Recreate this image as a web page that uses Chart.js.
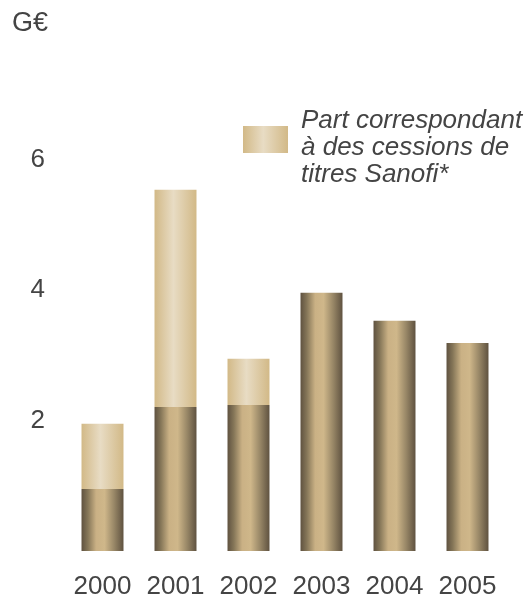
<!DOCTYPE html>
<html>
<head>
<meta charset="utf-8">
<script src="https://cdn.jsdelivr.net/npm/chart.js@4"></script>
<style>
  body { margin: 0; background: #fff; }
  #wrap { width: 531px; height: 594px; }
</style>
</head>
<body>
<div id="wrap"><canvas id="graph"></canvas></div>
<script>
  // Données (G€)
  const annees = ['2000', '2001', '2002', '2003', '2004', '2005'];
  const horsCessions = [0.95, 2.21, 2.24, 3.96, 3.53, 3.19];
  const cessionsSanofi = [1.00, 3.33, 0.71, null, null, null];
  const ticksY = [2, 4, 6];
  const uniteY = 'G€';
  const legende = ['Part correspondant', 'à des cessions de', 'titres Sanofi*'];

  const police = '"Liberation Sans", Arial, sans-serif';
  const gris = '#444444';
  const largeurBarre = 0.575;

  // Dégradés horizontaux (effet cylindre)
  const stopsFonce = [[0, '#5f5240'], [0.15, '#857658'], [0.35, '#cab185'], [0.55, '#cfb78a'], [0.78, '#978666'], [1, '#5f5240']];
  const stopsClair = [[0, '#d2b987'], [0.45, '#e8dcc4'], [1, '#d2b987']];

  function degrade(ctx, x0, x1, stops) {
    const g = ctx.createLinearGradient(x0, 0, x1, 0);
    stops.forEach(s => g.addColorStop(s[0], s[1]));
    return g;
  }

  function couleurBarre(stops, repli) {
    return function (context) {
      const chart = context.chart;
      const x = chart.scales.x;
      if (!chart.chartArea || !x) return repli;
      const centre = x.getPixelForValue(context.dataIndex);
      const demi = (x.width / annees.length) * largeurBarre / 2;
      return degrade(chart.ctx, centre - demi, centre + demi, stops);
    };
  }

  // Légende et unité dessinées à la main
  const decor = {
    id: 'decor',
    afterDraw(chart) {
      const ctx = chart.ctx;
      ctx.save();
      ctx.fillStyle = gris;
      ctx.textBaseline = 'alphabetic';
      ctx.textAlign = 'left';
      ctx.font = '27px ' + police;
      ctx.fillText(uniteY, 12, 31);

      ctx.fillStyle = degrade(ctx, 243, 288, stopsClair);
      ctx.fillRect(243, 126, 45, 27);

      ctx.fillStyle = gris;
      ctx.font = 'italic 26px ' + police;
      legende.forEach((ligne, i) => {
        ctx.fillText(ligne, 301, 128 + i * 27);
      });
      ctx.restore();
    }
  };

  new Chart(document.getElementById('graph'), {
    type: 'bar',
    data: {
      labels: annees,
      datasets: [
        {
          label: 'Hors cessions',
          data: horsCessions,
          backgroundColor: couleurBarre(stopsFonce, '#a8956f'),
          borderWidth: 0,
          categoryPercentage: 1,
          barPercentage: largeurBarre
        },
        {
          label: legende.join(' '),
          data: cessionsSanofi,
          backgroundColor: couleurBarre(stopsClair, '#ddcaa5'),
          borderWidth: 0,
          categoryPercentage: 1,
          barPercentage: largeurBarre
        }
      ]
    },
    options: {
      responsive: true,
      maintainAspectRatio: false,
      animation: false,
      events: [],
      layout: { padding: { top: 62, right: 27, left: 0, bottom: 0 } },
      scales: {
        x: {
          stacked: true,
          grid: { display: false },
          border: { display: false },
          ticks: { color: gris, font: { family: police, size: 26 }, padding: 12, maxRotation: 0 },
          afterFit: s => { s.height = 43; }
        },
        y: {
          stacked: true,
          min: 0,
          max: 7.5,
          grid: { display: false, drawTicks: false },
          border: { display: false },
          ticks: { color: gris, font: { family: police, size: 26 }, padding: 21 },
          afterBuildTicks: s => { s.ticks = ticksY.map(v => ({ value: v })); },
          afterFit: s => { s.width = 66; }
        }
      },
      plugins: {
        legend: { display: false },
        tooltip: { enabled: false }
      }
    },
    plugins: [decor]
  });
</script>
</body>
</html>
